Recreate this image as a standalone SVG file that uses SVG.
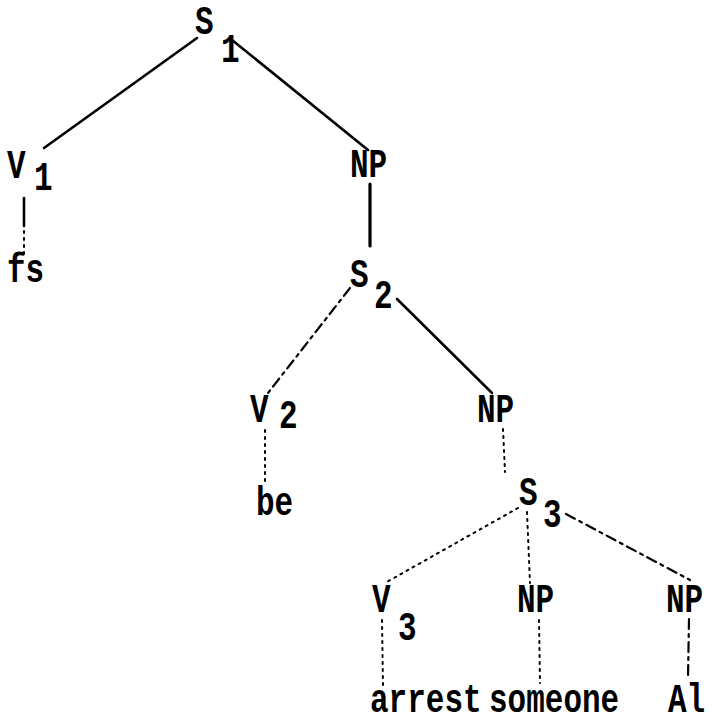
<svg xmlns="http://www.w3.org/2000/svg" width="712" height="723" viewBox="0 0 712 723">
  <style>
    text { font-family: "Liberation Mono", "DejaVu Sans Mono", monospace; font-weight: bold; font-size: 31px; fill: #000; }
    .solid { stroke: #000; stroke-width: 2.6; stroke-linecap: round; fill: none; }
    .heavy { stroke: #000; stroke-width: 3.2; stroke-linecap: round; fill: none; }
    .dash { stroke: #000; stroke-width: 2.2; stroke-linecap: round; stroke-dasharray: 10 5 3 5; fill: none; }
    .dot { stroke: #000; stroke-width: 2; stroke-linecap: round; stroke-dasharray: 2 5; fill: none; }
  </style>
  <rect width="712" height="723" fill="#fff"/>

  <g id="edges">
    <line class="solid" x1="197" y1="38" x2="44" y2="148"/>
    <line class="solid" x1="232" y1="40" x2="368" y2="150"/>
    <line class="solid" x1="24" y1="198" x2="24" y2="226"/>
    <line class="dot" x1="24" y1="231" x2="24" y2="256"/>
    <line class="heavy" x1="370" y1="184" x2="370" y2="246"/>
    <line class="dash" x1="350" y1="288" x2="268" y2="393"/>
    <line class="solid" x1="397" y1="299" x2="492" y2="393"/>
    <line class="dot" x1="265" y1="430" x2="265" y2="482"/>
    <line class="dot" x1="503" y1="429" x2="505" y2="472"/>
    <line class="dot" x1="518" y1="508" x2="385" y2="583"/>
    <line class="dot" x1="527" y1="512" x2="530" y2="583"/>
    <line class="dash" x1="566" y1="514" x2="690" y2="580"/>
    <line class="dot" x1="382" y1="620" x2="383" y2="686"/>
    <line class="dot" x1="539" y1="620" x2="540" y2="683"/>
    <line class="dash" x1="689" y1="619" x2="688" y2="678"/>
  </g>

  <g id="s1"><text transform="translate(195 34) scale(1 1.3)">S</text><text transform="translate(221 62) scale(1 1.3)">1</text></g>
  <g id="v1"><text transform="translate(7 178) scale(1 1.3)">V</text><text transform="translate(34 190) scale(1 1.3)">1</text></g>
  <g id="fs"><text transform="translate(7 282) scale(1 1.3)">fs</text></g>
  <g id="np1"><text transform="translate(350 177) scale(1 1.3)">NP</text></g>
  <g id="s2"><text transform="translate(350 287) scale(1 1.3)">S</text><text transform="translate(374 308) scale(1 1.3)">2</text></g>
  <g id="v2"><text transform="translate(250 422) scale(1 1.3)">V</text><text transform="translate(279 428) scale(1 1.3)">2</text></g>
  <g id="be"><text transform="translate(256 515) scale(1 1.3)">be</text></g>
  <g id="np2"><text transform="translate(477 422) scale(1 1.3)">NP</text></g>
  <g id="s3"><text transform="translate(519 505) scale(1 1.3)">S</text><text transform="translate(543 527) scale(1 1.3)">3</text></g>
  <g id="v3"><text transform="translate(372 612) scale(1 1.3)">V</text><text transform="translate(398 640) scale(1 1.3)">3</text></g>
  <g id="np3"><text transform="translate(517 612) scale(1 1.3)">NP</text></g>
  <g id="np4"><text transform="translate(666 612) scale(1 1.3)">NP</text></g>
  <g id="arrest"><text transform="translate(370 712) scale(1 1.3)">arrest</text></g>
  <g id="someone"><text transform="translate(489 712) scale(1 1.3)">someone</text></g>
  <g id="al"><text transform="translate(668 712) scale(1 1.3)">Al</text></g>
</svg>
